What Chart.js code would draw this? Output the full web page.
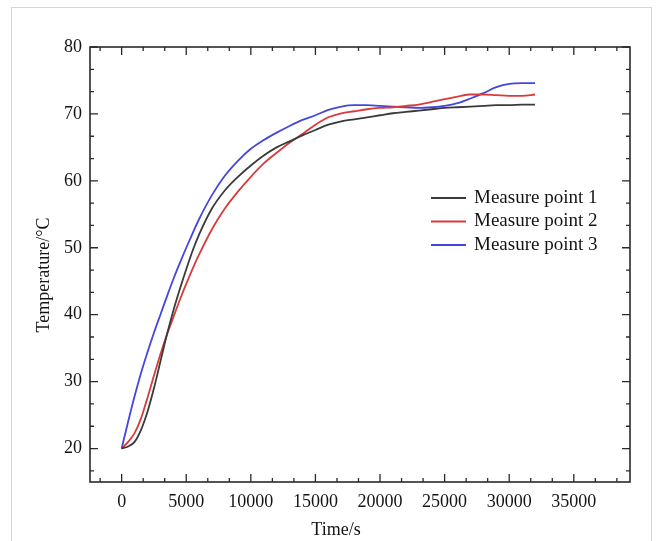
<!DOCTYPE html>
<html>
<head>
<meta charset="utf-8">
<script src="https://cdn.jsdelivr.net/npm/chart.js@4.4.1/dist/chart.umd.min.js"></script>
<style>
  html, body { margin: 0; padding: 0; background: #fff; }
  body { width: 656px; height: 541px; overflow: hidden; position: relative; }
  .sheet { position: absolute; left: 11px; top: 7px; width: 641px; height: 560px; border: 1px solid #d6d6d6; box-sizing: border-box; }
  .wrap { position: absolute; left: 0; top: 0; width: 656px; height: 541px; }
</style>
</head>
<body>
<div class="sheet"></div>
<div class="wrap"><canvas id="chart" width="656" height="541"></canvas></div>
<script>
// time axis samples, seconds
const timeSeconds = [0, 500, 1000, 1500, 2000, 2500, 3000, 3500, 4000, 4500, 5000, 5500, 6000, 7000, 8000, 9000, 10000,
  11000, 12000, 13000, 14000, 15000, 16000, 17000, 18000, 19000, 20000, 21000, 22000, 23000, 24000,
  25000, 26000, 27000, 28000, 29000, 30000, 31000, 32000];

const point1 = [20.0, 20.3, 21.0, 22.8, 25.5, 29.0, 33.0, 37.0, 40.6, 43.8, 46.8, 49.6, 52.0, 55.9, 58.6, 60.6, 62.3,
  63.8, 65.0, 65.9, 66.8, 67.6, 68.4, 68.9, 69.2, 69.5, 69.8, 70.1, 70.3, 70.5, 70.7,
  70.9, 71.0, 71.1, 71.2, 71.3, 71.3, 71.4, 71.4];

const point2 = [20.0, 21.0, 22.3, 24.5, 27.6, 30.9, 34.1, 37.0, 39.6, 42.2, 44.6, 46.9, 49.0, 52.8, 55.9, 58.4, 60.6,
  62.6, 64.2, 65.7, 67.0, 68.4, 69.5, 70.1, 70.4, 70.7, 70.9, 71.0, 71.2, 71.4, 71.8,
  72.2, 72.6, 72.9, 72.9, 72.8, 72.7, 72.7, 72.9];

const point3 = [20.0, 24.0, 27.8, 31.3, 34.4, 37.3, 40.0, 42.7, 45.3, 47.7, 50.0, 52.2, 54.3, 57.9, 60.8, 63.0, 64.8,
  66.1, 67.2, 68.2, 69.1, 69.8, 70.6, 71.1, 71.3, 71.3, 71.2, 71.1, 71.0, 70.9, 71.0,
  71.2, 71.6, 72.3, 73.1, 74.0, 74.5, 74.6, 74.6];

const xTicks = [0, 5000, 10000, 15000, 20000, 25000, 30000, 35000];
const yTicks = [20, 30, 40, 50, 60, 70, 80];

const seriesNames = ['Measure point 1', 'Measure point 2', 'Measure point 3'];
const seriesColors = ['#3a3a3a', '#d83b3b', '#4646df'];
const xTitle = 'Time/s';
const yTitle = 'Temperature/°C';

const serif = "'Liberation Serif', 'DejaVu Serif', serif";

function toPoints(values) {
  return timeSeconds.map((t, i) => ({ x: t, y: values[i] }));
}

// box, inward ticks, axis titles and the legend inside the plot
const framePlugin = {
  id: 'frame',
  afterDatasetsDraw(chart) {
    const { ctx, chartArea: a, scales: { x, y } } = chart;
    ctx.save();
    ctx.strokeStyle = '#2a2a2a';
    ctx.lineWidth = 1.6;
    ctx.strokeRect(a.left, a.top, a.right - a.left, a.bottom - a.top);

    ctx.lineWidth = 1.3;
    const xStep = (xTicks[1] - xTicks[0]) / 3;
    for (let k = Math.ceil(x.min / xStep); k * xStep <= x.max; k++) {
      const px = x.getPixelForValue(k * xStep);
      const len = k % 3 === 0 ? 8 : 4;
      ctx.beginPath();
      ctx.moveTo(px, a.bottom); ctx.lineTo(px, a.bottom - len);
      ctx.moveTo(px, a.top); ctx.lineTo(px, a.top + len);
      ctx.stroke();
    }
    const yStep = (yTicks[1] - yTicks[0]) / 3;
    for (let k = Math.ceil(y.min / yStep - 1e-9); k * yStep <= y.max + 1e-9; k++) {
      const py = y.getPixelForValue(k * yStep);
      const len = k % 3 === 0 ? 8 : 4;
      ctx.beginPath();
      ctx.moveTo(a.left, py); ctx.lineTo(a.left + len, py);
      ctx.moveTo(a.right, py); ctx.lineTo(a.right - len, py);
      ctx.stroke();
    }

    ctx.fillStyle = '#141414';
    ctx.font = `18px ${serif}`;
    ctx.textAlign = 'center';
    ctx.textBaseline = 'middle';
    ctx.fillText(xTitle, 336, 530);
    ctx.save();
    ctx.translate(44, 275);
    ctx.rotate(-Math.PI / 2);
    ctx.fillText(yTitle, 0, 0);
    ctx.restore();

    ctx.font = `19px ${serif}`;
    ctx.textAlign = 'left';
    chart.data.datasets.forEach((ds, i) => {
      const ly = 198 + i * 23.5;
      ctx.strokeStyle = ds.borderColor;
      ctx.lineWidth = 2;
      ctx.beginPath();
      ctx.moveTo(431, ly); ctx.lineTo(466, ly);
      ctx.stroke();
      ctx.fillText(ds.label, 474, ly);
    });
    ctx.restore();
  },
};

const tickFont = { family: serif, size: 18 };

new Chart(document.getElementById('chart'), {
  type: 'line',
  data: {
    datasets: [point1, point2, point3].map((vals, i) => ({
      label: seriesNames[i],
      data: toPoints(vals),
      borderColor: seriesColors[i],
      borderWidth: 1.8,
      pointRadius: 0,
      fill: false,
      cubicInterpolationMode: 'monotone',
    })),
  },
  options: {
    responsive: false,
    animation: false,
    layout: { padding: { top: 47, right: 26, bottom: 0, left: 0 } },
    plugins: { legend: { display: false }, tooltip: { enabled: false } },
    scales: {
      x: {
        type: 'linear',
        min: -2450,
        max: 39350,
        afterBuildTicks: (s) => { s.ticks = xTicks.map((v) => ({ value: v })); },
        afterFit: (s) => { s.height = 59; },
        grid: { display: false, drawTicks: false },
        border: { display: false },
        ticks: {
          autoSkip: false,
          maxRotation: 0,
          padding: 9,
          color: '#141414',
          font: tickFont,
          callback: (v) => String(v),
        },
      },
      y: {
        min: 15,
        max: 80,
        afterBuildTicks: (s) => { s.ticks = yTicks.map((v) => ({ value: v })); },
        afterFit: (s) => { s.width = 90; },
        grid: { display: false, drawTicks: false },
        border: { display: false },
        ticks: {
          padding: 8,
          color: '#141414',
          font: tickFont,
        },
      },
    },
  },
  plugins: [framePlugin],
});
</script>
</body>
</html>
